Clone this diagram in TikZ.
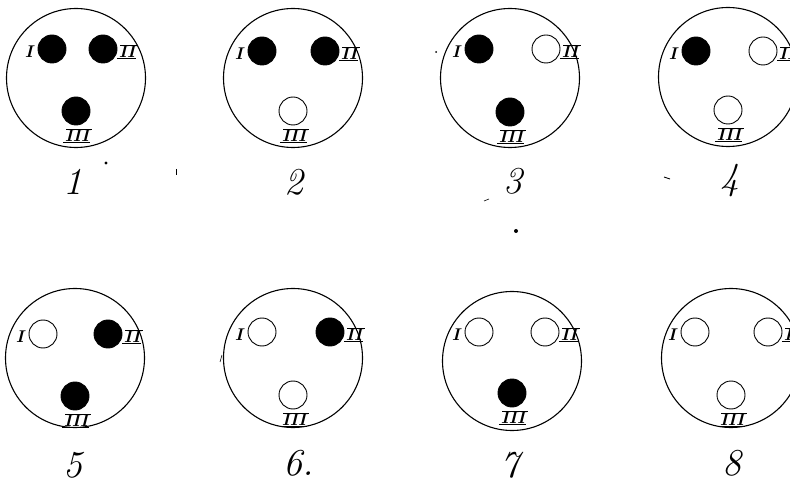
\documentclass[tikz,border=0pt]{standalone}
\usetikzlibrary{calc}
\tikzset{
  disc/.style={circle, draw, line width=0.9pt, minimum size=28pt, inner sep=0pt},
  full/.style={disc, fill=black},
  hollow/.style={disc, fill=white},
  face/.style={circle, draw, line width=1.1pt, minimum size=139pt, inner sep=0pt},
  numeral/.style={inner sep=0pt, font=\fontsize{17}{17}\selectfont\bfseries\itshape},
  barred/.style={numeral, append after command={
      ([xshift=1.5pt,yshift=0.5pt]\tikzlastnode.north west) edge[line width=1pt] ([xshift=3pt,yshift=0.5pt]\tikzlastnode.north east)
      ([xshift=-2pt]\tikzlastnode.south west) edge[line width=1pt] ([xshift=0.5pt]\tikzlastnode.south east)}},
  figno/.style={font=\fontsize{38}{38}\selectfont\itshape, inner sep=0pt},
  speck/.style={fill=black, draw=none},
}
% #1 name, #2 centre, #3 x of I, #4 x of II, #5 y of I and II, #6 y of III, #7-#9 styles of I, II, III
\newcommand\facepanel[9]{%
  \begin{scope}[shift={#2}]
    \node[face] (#1) at (0,0) {};
    \node[#7] (#1-I) at (#3,#5) {};
    \node[#8] (#1-II) at (#4,#5) {};
    \node[#9] (#1-III) at (0,#6) {};
    \node[numeral] (#1-lI) at ($(#1-I)+(-23,3)$) {I};
    \node[barred] (#1-lII) at ($(#1-II)+(24,3)$) {II};
    \node[barred] (#1-lIII) at ($(#1-III)+(1,25)$) {III};
  \end{scope}}

\begin{document}
\begin{tikzpicture}[x=1pt,y=-1pt]
  \useasboundingbox (0,0) rectangle (790,486);
  \clip (0,0) rectangle (790,486);

  \facepanel{p1}{(76,78)}{-24}{27}{-29}{33}{full}{full}{full}
  \facepanel{p2}{(293,78)}{-31}{32}{-27}{33}{full}{full}{hollow}
  \facepanel{p3}{(510,78)}{-31}{36}{-29}{34}{full}{hollow}{full}
  \facepanel{p4}{(728,77)}{-32}{35}{-26}{33}{full}{hollow}{hollow}
  \facepanel{p5}{(75,358)}{-32}{33}{-24}{38}{hollow}{full}{full}
  \facepanel{p6}{(293,358)}{-31}{37}{-26}{37}{hollow}{full}{hollow}
  \facepanel{p7}{(512,361)}{-33}{33}{-29}{32}{hollow}{hollow}{full}
  \facepanel{p8}{(731,358)}{-36}{37}{-26}{37}{hollow}{hollow}{hollow}

  \node[figno] (n1) at (73,182) {1};
  \node[figno] (n2) at (294,182) {2};
  \node[figno] (n3) at (513,181) {3};
  \node[figno] (n4) at (730,181) {4};
  \node[figno] (n5) at (73,465) {5};
  \node[figno] (n6) at (299,463) {6.};
  \node[figno] (n7) at (510,465) {7};
  \node[figno] (n8) at (732,463) {8};

  % scanning specks
  \fill[speck] (106,163) circle (1.6);
  \fill[speck] (516,231) circle (2);
  \fill[speck] (436,52) circle (1);
  \draw[line width=0.8pt] (176,169) -- (176,175);
  \draw[line width=0.8pt] (664,177) -- (670,179);
  \draw[line width=0.6pt] (484,201) -- (489,199);
  \draw[line width=0.6pt] (222,355) -- (220,362);
\end{tikzpicture}
\end{document}
